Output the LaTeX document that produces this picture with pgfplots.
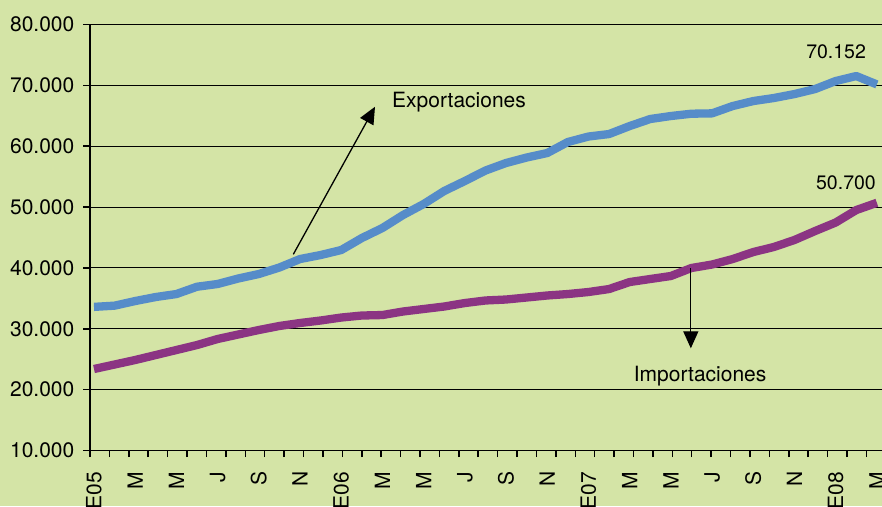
\documentclass[border=0pt]{standalone}
\usepackage{pgfplots}
\pgfplotsset{compat=1.18}
\usepackage{pgfplotstable}
\usepackage{fontspec}
\setmainfont{TeX Gyre Heros}
\usetikzlibrary{arrows.meta}
\definecolor{bg}{RGB}{212,228,166}
\definecolor{expblue}{RGB}{86,140,201}
\definecolor{imppurple}{RGB}{139,52,131}

\pgfplotstableread{
i exp imp
0 33600 23390
1 33800 24130
2 34560 24870
3 35220 25690
4 35710 26510
5 36910 27330
6 37360 28320
7 38260 29060
8 39000 29800
9 40070 30460
10 41460 30950
11 42120 31360
12 42940 31850
13 44910 32180
14 46560 32260
15 48690 32840
16 50500 33250
17 52640 33660
18 54280 34230
19 56000 34650
20 57240 34810
21 58140 35140
22 58880 35470
23 60690 35710
24 61590 36040
25 62000 36530
26 63310 37680
27 64470 38180
28 64960 38670
29 65340 39990
30 65400 40560
31 66600 41460
32 67420 42610
33 67920 43440
34 68570 44590
35 69390 46060
36 70710 47460
37 71530 49510
38 70152 50700
}\datatable

\pgfplotsset{common/.style={
 at={(0pt,0pt)}, anchor=south west,
 scale only axis, width=792pt, height=426pt,
 xmin=-0.194, xmax=38.25, ymin=10000, ymax=80000,
 scaled y ticks=false,
 tick label style={font=\fontsize{21}{25}\selectfont, text=black},
}}

\begin{document}
\begin{tikzpicture}
\fill[bg] (-90pt,-55.5pt) rectangle (792pt,450.5pt);
\useasboundingbox (-90pt,-55.5pt) rectangle (792pt,450.5pt);
\begin{axis}[
 common,
 axis x line*=bottom, axis y line*=left,
 axis line style={line width=1.3pt, black},
 ymajorgrids, grid style={black, line width=0.9pt},
 ytick={10000,20000,...,80000},
 yticklabels={10.000,20.000,30.000,40.000,50.000,60.000,70.000,80.000},
 xtick={-0.194,0.7482,...,38.3},
 xticklabels={},
 tick align=outside,
 major tick length=6.5pt,
 tick style={black, line width=1.5pt},
 yticklabel style={inner sep=0pt, xshift=-9pt},
]
\addplot[expblue, line width=8.3pt, line join=round] table[x=i, y=exp] {\datatable};
\addplot[imppurple, line width=8.3pt, line join=round] table[x=i, y=imp] {\datatable};
\draw[-{Triangle[length=17pt,width=15pt]}, line width=1.3pt] (axis cs:9.675,42236) -- (axis cs:13.64,66486);
\draw[-{Triangle[length=17pt,width=15pt]}, line width=1.3pt] (axis cs:28.97,39935) -- (axis cs:28.97,26791);
\node[font=\fontsize{21}{25}\selectfont] at (axis cs:17.72,67259) {Exportaciones};
\node[font=\fontsize{21}{25}\selectfont] at (axis cs:29.42,22240) {Importaciones};
\node[font=\fontsize{19.5}{23}\selectfont] at (axis cs:36.02,75523) {70.152};
\node[font=\fontsize{19.5}{23}\selectfont] at (axis cs:36.5,53950) {50.700};
\end{axis}
\begin{axis}[
 common,
 axis x line*=bottom, axis y line=none,
 axis line style={draw=none},
 major tick length=0pt,
 tick style={draw=none},
 ytick=\empty,
 xtick={0,2,...,38},
 xticklabels={E05,M,M,J,S,N,E06,M,M,J,S,N,E07,M,M,J,S,N,E08,M},
 xticklabel style={yshift=-21pt, rotate=90, anchor=east, inner sep=0pt},
]
\end{axis}
\end{tikzpicture}
\end{document}
